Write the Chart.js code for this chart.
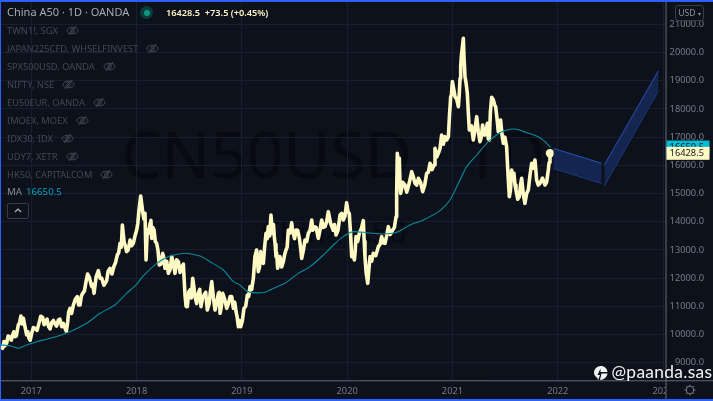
<!DOCTYPE html>
<html>
<head>
<meta charset="utf-8">
<title>China A50</title>
<script src="https://cdn.jsdelivr.net/npm/chart.js@4/dist/chart.umd.min.js"></script>
<style>
  html, body { margin: 0; padding: 0; background: #0c111c; }
  body { width: 713px; height: 401px; overflow: hidden; position: relative; font-family: "Noto Sans", sans-serif; }
  #frame { position: absolute; inset: 0; border: solid #2962ff; border-width: 2px 0 2px 1px; pointer-events: none; z-index: 5; }
  #chart { position: absolute; left: 0; top: 0; z-index: 1; }
  .wm { position: absolute; left: 0; width: 667px; text-align: center; color: #070a12; white-space: nowrap; z-index: 0; }
  #wm1 { top: 112px; font-size: 64px; line-height: 84px; }
  #wm2 { top: 210px; font-size: 31px; line-height: 42px; }
  .txt { position: absolute; white-space: nowrap; z-index: 3; }
  #title { left: 7px; top: 3px; font-size: 11px; line-height: 18px; color: #a6a9b2; }
  #dot { position: absolute; left: 140px; top: 6px; width: 13px; height: 13px; border-radius: 50%; background: #0d3a3a; z-index: 3; }
  #dot:after { content: ""; position: absolute; left: 3.5px; top: 3.5px; width: 6px; height: 6px; border-radius: 50%; background: #089981; }
  #quote { left: 166px; top: 5px; font-size: 9.2px; line-height: 16px; font-weight: 600; color: #fff5c2; white-space: pre; }
  .row { left: 7px; font-size: 9.3px; line-height: 14px; color: #444852; display: flex; align-items: center; gap: 8px; }
  .row svg { width: 13px; height: 11px; }
  #ma { left: 7px; top: 185px; font-size: 9.7px; line-height: 14px; color: #8a8d96; }
  #ma span { color: #00a5bd; margin-left: 4px; }
  #collapse { position: absolute; left: 7px; top: 203px; width: 20px; height: 14px; border: 1px solid #383c47; border-radius: 2px; z-index: 3; }
  #collapse svg { position: absolute; left: 5px; top: 3px; }
  #usd { position: absolute; left: 675px; top: 5px; width: 27px; height: 14px; border: 1px solid #383c47; border-radius: 3px; font-size: 8.6px; line-height: 14px; color: #8b8e97; text-align: center; z-index: 3; }
  #handle { left: 611.5px; top: 360px; font-family: Lato, sans-serif; font-size: 17.4px; line-height: 24px; color: #f4f4f4; letter-spacing: .3px; z-index: 4; }
  #logo { position: absolute; left: 594px; top: 365px; z-index: 4; }
  #gear { position: absolute; left: 684px; top: 384px; z-index: 3; }
</style>
</head>
<body>
<div id="wm1" class="wm">CN50USD · 1D</div>
<div id="wm2" class="wm">China A50</div>
<canvas id="chart" width="713" height="401"></canvas>
<div id="frame"></div>
<div id="title" class="txt">China A50 · 1D · OANDA</div>
<div id="dot"></div>
<div id="quote" class="txt"></div>
<div id="legend"></div>
<div id="ma" class="txt">MA<span></span></div>
<div id="collapse"><svg width="10" height="7" viewBox="0 0 10 7"><path d="M2 5 L5 2 L8 5" fill="none" stroke="#b2b5be" stroke-width="1.2"/></svg></div>
<div id="usd">USD <span style="font-size:6px">▾</span></div>
<div id="handle" class="txt">@paanda.sas</div>
<svg id="logo" width="14" height="16" viewBox="0 0 14 16"><path d="M7 1 C3 1 0 4 0 7.5 C0 10 1.5 12 3.5 13 L4 15.5 L6 10 L3.5 10 L6.5 3.5 L6.5 7 L13.5 7 C13 3.5 10.5 1 7 1 Z M7.5 8.5 L6 15 C10 15 13 12 13.5 8.5 Z" fill="#f4f4f4"/></svg>
<svg id="gear" width="12" height="12" viewBox="0 0 12 12"><circle cx="6" cy="6" r="3.8" fill="none" stroke="#787b86"/><path d="M6 .5V2.2M6 9.8v1.7M.5 6h1.7M9.8 6h1.7M2.1 2.1l1.2 1.2M8.7 8.7l1.2 1.2M2.1 9.9l1.2-1.2M8.7 3.3l1.2-1.2" stroke="#787b86"/></svg>

<script>
// decimal years on the x axis
const priceYears = [2016.712,2016.728,2016.741,2016.766,2016.792,2016.823,2016.845,2016.868,2016.887,2016.902,2016.925,2016.940,2016.956,2016.978,2017.004,2017.035,2017.077,2017.108,2017.137,2017.162,2017.194,2017.225,2017.257,2017.289,2017.320,2017.346,2017.368,2017.400,2017.437,2017.463,2017.488,2017.520,2017.551,2017.574,2017.596,2017.637,2017.669,2017.716,2017.748,2017.786,2017.817,2017.843,2017.865,2017.881,2017.906,2017.938,2017.969,2018.001,2018.023,2018.039,2018.058,2018.080,2018.090,2018.102,2018.128,2018.144,2018.166,2018.191,2018.216,2018.248,2018.270,2018.302,2018.334,2018.365,2018.397,2018.429,2018.460,2018.482,2018.508,2018.533,2018.555,2018.587,2018.612,2018.641,2018.672,2018.714,2018.745,2018.777,2018.793,2018.818,2018.856,2018.888,2018.919,2018.945,2018.967,2018.989,2019.020,2019.052,
  2019.077,2019.109,2019.124,2019.140,2019.156,2019.178,2019.204,2019.229,2019.251,2019.276,2019.292,2019.308,2019.324,2019.340,2019.362,2019.394,2019.419,2019.441,2019.473,2019.489,2019.514,2019.546,2019.568,2019.599,2019.631,2019.663,2019.685,2019.726,2019.758,2019.789,2019.821,2019.843,2019.894,2019.932,2019.963,2019.995,2020.020,2020.043,2020.068,2020.084,2020.115,2020.153,2020.169,2020.195,2020.217,2020.248,2020.296,2020.328,2020.359,2020.391,2020.432,2020.464,2020.476,2020.495,2020.508,2020.549,2020.581,2020.613,2020.644,2020.676,2020.717,2020.755,2020.787,2020.825,2020.834,2020.866,2020.897,2020.929,2020.961,2020.983,2020.999,2021.024,2021.056,2021.072,2021.084,2021.103,2021.119,2021.141,2021.160,2021.198,2021.230,2021.261,
  2021.286,2021.308,2021.331,2021.350,2021.372,2021.388,2021.410,2021.435,2021.457,2021.483,2021.514,2021.540,2021.562,2021.584,2021.603,2021.635,2021.657,2021.688,2021.720,2021.752,2021.783,2021.799,2021.831,2021.878,2021.910,2021.926];
const priceValues = [9572,9513,9749,9690,9927,9986,9927,10163,10399,10660,10577,10281,9986,9868,10045,10222,10459,10612,10459,10305,10423,10376,10518,10281,10222,10459,10931,11050,11345,11050,11463,11877,12031,11700,11463,12267,11995,11912,12350,12433,12823,13236,13886,13295,12941,13354,13236,13709,14418,14915,14359,14300,12645,13709,13945,13413,13709,13236,12468,12882,12350,12172,12763,12172,12586,12409,11404,10990,11581,11995,11345,11463,10990,11404,10872,11877,10872,11463,10754,11463,10931,11345,10931,10813,10281,10281,10931,11404,
  11700,11995,12763,13000,12232,12941,12527,13591,13827,14241,13591,13473,12763,12350,12763,12586,13000,13709,13969,13591,13709,13414,12704,13354,13591,14064,13827,13414,14064,13827,14359,13945,13532,14241,14064,14678,14300,12763,12645,13473,13591,14040,12763,11818,12763,12881,13118,13473,13236,13827,13709,14182,16428,16250,15009,15305,15246,15777,15364,15541,15068,15718,16073,16014,16605,16428,17078,17019,17019,18437,18969,18437,18082,19087,19855,20505,19146,18555,17255,16900,17728,16841,
  17432,17078,17492,16901,18414,18319,18083,17196,17610,16782,16664,14891,15837,15719,15128,14891,15541,14655,15128,16073,16191,15482,15364,15305,15837,16428.5];

// finer wiggles read between the points above
const wiggleYears = [2016.750,2016.780,2016.810,2016.834,2016.858,2016.877,2016.913,2016.967,2016.990,2017.020,2017.055,2017.090,2017.122,2017.150,2017.178,2017.210,2017.240,2017.272,2017.305,2017.333,2017.355,2017.383,2017.418,2017.450,2017.475,2017.505,2017.535,2017.585,2017.616,2017.653,2017.690,2017.730,2017.766,2017.800,2017.830,2017.855,2017.893,2017.920,2017.953,2017.985,2018.012,2018.069,2018.115,2018.136,2018.155,2018.178,2018.203,2018.232,2018.260,2018.286,2018.318,2018.350,2018.380,2018.413,2018.444,2018.470,2018.495,2018.520,2018.544,2018.571,2018.600,2018.626,2018.656,2018.690,2018.700,2018.730,2018.760,2018.785,2018.805,2018.837,2018.872,2018.903,2018.932,2018.956,2018.978,2019.005,2019.036,2019.065,2019.093,
  2019.168,2019.190,2019.216,2019.240,2019.264,2019.300,2019.316,2019.330,2019.350,2019.378,2019.407,2019.430,2019.457,2019.480,2019.500,2019.530,2019.557,2019.585,2019.615,2019.648,2019.674,2019.705,2019.742,2019.773,2019.805,2019.832,2019.868,2019.880,2019.913,2019.948,2019.979,2020.008,2020.032,2020.055,2020.075,2020.100,2020.134,2020.162,2020.180,2020.206,2020.232,2020.272,2020.312,2020.343,2020.375,2020.410,2020.448,2020.470,2020.485,2020.502,2020.528,2020.565,2020.597,2020.628,2020.660,2020.697,2020.736,2020.770,2020.806,2020.850,2020.882,2020.913,2020.945,2020.972,2020.990,2021.012,2021.040,2021.064,2021.078,2021.110,2021.130,2021.150,2021.180,2021.214,2021.245,2021.274,2021.296,2021.320,2021.340,2021.360,2021.400,2021.422,2021.446,2021.470,2021.498,2021.527,2021.550,2021.573,2021.594,2021.619,2021.646,2021.672,2021.704,2021.736,2021.768,2021.790,2021.815,2021.855,2021.894,2021.918];
const wiggleValues = [9600,9950,9800,10100,9950,10350,10380,10100,9800,10250,10150,10650,10350,10550,10200,10500,10300,10550,10400,10120,10800,10750,11250,11050,11350,11550,12150,11780,12050,12000,11750,12250,12150,12550,12900,13100,13150,13000,13150,13500,13950,14100,13600,14050,13800,13300,13000,12500,12700,12600,12300,12500,12650,12200,12500,11000,11500,11300,11700,11100,11600,11300,11500,11100,11500,11300,11100,11500,11000,11250,11100,11350,11150,10600,10500,10500,11000,11350,11600,
  12400,12550,13100,13400,13500,13900,13200,12900,12600,12400,12850,13100,13600,13750,13400,13700,13100,13000,13300,13700,13700,13800,13700,13800,14000,14150,13700,13900,13700,14300,14200,14350,13600,12900,12900,13300,13750,13300,12200,12300,12600,12800,13200,13250,13500,13550,13800,15000,16100,15300,15400,15050,15500,15600,15300,15400,15300,15750,15850,16300,16600,16750,16900,17800,18500,18700,18350,18500,19500,19800,18900,17900,17400,17300,17200,17000,17150,17250,16950,17900,18150,17700,17500,17100,17000,15700,15100,15500,15300,14800,15300,15000,15000,15650,15900,15900,15300,15550,15400,16100];

const maYears = [2016.712,2016.798,2016.877,2016.956,2017.051,2017.178,2017.368,2017.526,2017.653,2017.795,2017.906,2017.995,2018.064,2018.191,2018.318,2018.460,2018.603,2018.698,2018.824,2018.919,2018.982,2019.045,2019.109,2019.219,2019.299,2019.409,2019.536,2019.647,2019.774,2019.869,2019.963,2020.058,2020.185,2020.343,2020.470,2020.597,2020.723,2020.882,2020.977,2021.056,2021.135,2021.230,2021.340,2021.451,2021.546,2021.609,2021.704,2021.815,2021.878,2021.932];
const maValues = [9631,9607,9513,9631,9749,9868,10104,10399,10754,11050,11463,11759,12078,12527,12787,12882,12787,12586,12291,11877,11759,11546,11487,11499,11640,11818,12172,12409,12822,13177,13473,13650,13614,13567,13626,13886,14064,14395,14773,15364,15955,16368,16842,17161,17279,17279,17161,17019,16842,16641];

// the drawn channel: two parallel legs, top and bottom edge of each
const legOneYears = [2021.958, 2022.417];
const legOneUpper = [16605, 16073];
const legOneLower = [15896, 15364];
const legTwoYears = [2022.442, 2022.955];
const legTwoUpper = [16014, 19347];
const legTwoLower = [15281, 18650];

const xTicks = [2017, 2018, 2019, 2020, 2021, 2022, 2023];
const yTicks = [9000, 10000, 11000, 12000, 13000, 14000, 15000, 16000, 17000, 18000, 19000, 20000, 21000];

const lastPrice = 16428.5;
const lastMa = 16650.5;
const quoteText = "16428.5  +73.5 (+0.45%)";
const hiddenSeries = ["TWN1!, SGX", "JAPAN225CFD, WHSELFINVEST", "SPX500USD, OANDA", "NIFTY, NSE", "EU50EUR, OANDA", "IMOEX, MOEX", "IDX30, IDX", "UDY7, XETR", "HK50, CAPITALCOM"];

const eyeIcon = '<svg viewBox="0 0 14 12"><ellipse cx="7" cy="6" rx="6" ry="3.6" fill="none" stroke="#4c505b"/><circle cx="7" cy="6" r="2" fill="none" stroke="#4c505b"/><path d="M3 11 L11 1" stroke="#4c505b"/></svg>';

document.getElementById("quote").textContent = quoteText;
document.querySelector("#ma span").textContent = lastMa.toFixed(1);
const legend = document.getElementById("legend");
hiddenSeries.forEach((name, i) => {
  const row = document.createElement("div");
  row.className = "txt row";
  row.style.top = (23.5 + i * 18) + "px";
  row.innerHTML = "<span>" + name + "</span>" + eyeIcon;
  legend.appendChild(row);
});

function toPoints(xs, ys) {
  return xs.map((x, i) => ({ x: x, y: ys[i] }));
}

const pricePoints = toPoints(priceYears, priceValues)
  .concat(toPoints(wiggleYears, wiggleValues))
  .sort((a, b) => a.x - b.x);

const channelFill = "#14264f";
const channelLine = "#2553b8";

const chromePlugin = {
  id: "chrome",
  afterDatasetsDraw(chart) {
    const { ctx, chartArea, scales } = chart;
    // right price axis sits over the x labels, that cuts the 2023 label
    ctx.save();
    ctx.fillStyle = "#0c111c";
    ctx.fillRect(chartArea.right, chartArea.bottom + 1, chart.width - chartArea.right, chart.height - chartArea.bottom);
    ctx.strokeStyle = "#666a75";
    ctx.lineWidth = 1;
    ctx.beginPath();
    ctx.moveTo(chartArea.left, chartArea.bottom + .5);
    ctx.lineTo(chart.width, chartArea.bottom + .5);
    ctx.moveTo(chartArea.right + .5, 0);
    ctx.lineTo(chartArea.right + .5, chart.height);
    ctx.stroke();

    function tag(value, bg) {
      const y = scales.y.getPixelForValue(value);
      ctx.fillStyle = bg;
      ctx.fillRect(chartArea.right + 1, y - 6.5, 43, 13);
      ctx.fillStyle = "#131722";
      ctx.font = "9.3px 'Noto Sans'";
      ctx.textAlign = "right";
      ctx.textBaseline = "middle";
      ctx.fillText(value.toFixed(1), 704, y + .5);
    }
    tag(lastMa, "#00bcd4");
    tag(lastPrice, "#fff9c4");
    ctx.restore();
  }
};

new Chart(document.getElementById("chart"), {
  type: "line",
  data: {
    datasets: [
      { data: toPoints(legOneYears, legOneUpper), borderColor: channelLine, borderWidth: 1, backgroundColor: channelFill, fill: "+1", pointRadius: 0, tension: 0 },
      { data: toPoints(legOneYears, legOneLower), borderColor: channelLine, borderWidth: 1, pointRadius: 0, tension: 0 },
      { data: toPoints(legTwoYears, legTwoUpper), borderColor: channelLine, borderWidth: 1, backgroundColor: channelFill, fill: "+1", pointRadius: 0, tension: 0 },
      { data: toPoints(legTwoYears, legTwoLower), borderColor: channelLine, borderWidth: 1, pointRadius: 0, tension: 0 },
      { data: toPoints(maYears, maValues), borderColor: "#0b8a99", borderWidth: 1.1, pointRadius: 0, tension: 0.2 },
      {
        data: pricePoints,
        borderColor: "#fff9c4",
        borderWidth: 3.6,
        borderJoinStyle: "round",
        backgroundColor: "#fff9c4",
        pointBorderWidth: 0,
        pointRadius: ctx => ctx.dataIndex === pricePoints.length - 1 ? 4.2 : 0,
        tension: 0
      }
    ]
  },
  options: {
    responsive: false,
    animation: false,
    layout: { autoPadding: false, padding: { left: 0, right: 9, top: 0, bottom: 0 } },
    plugins: { legend: { display: false }, tooltip: { enabled: false } },
    scales: {
      x: {
        type: "linear",
        min: 2016.703,
        max: 2023.023,
        grid: { color: "#181e2b", drawTicks: false },
        border: { display: false },
        afterBuildTicks: scale => { scale.ticks = xTicks.map(v => ({ value: v })); },
        afterFit: scale => { scale.height = 20.7; scale.paddingLeft = 0; scale.paddingRight = 0; },
        ticks: {
          autoSkip: false,
          maxRotation: 0,
          padding: 5,
          color: "#787b86",
          font: { family: "Noto Sans", size: 9.3 },
          callback: v => String(v)
        }
      },
      y: {
        position: "right",
        z: 1,
        min: 8379,
        max: 21865,
        grid: { color: "#181e2b", drawTicks: false },
        border: { display: false },
        afterBuildTicks: scale => { scale.ticks = yTicks.map(v => ({ value: v })); },
        afterFit: scale => { scale.width = 38.5; scale.paddingTop = 0; scale.paddingBottom = 0; },
        ticks: {
          autoSkip: false,
          crossAlign: "far",
          color: "#787b86",
          font: { family: "Noto Sans", size: 9.3 },
          callback: v => v.toFixed(1)
        }
      }
    }
  },
  plugins: [chromePlugin]
});
</script>
</body>
</html>
